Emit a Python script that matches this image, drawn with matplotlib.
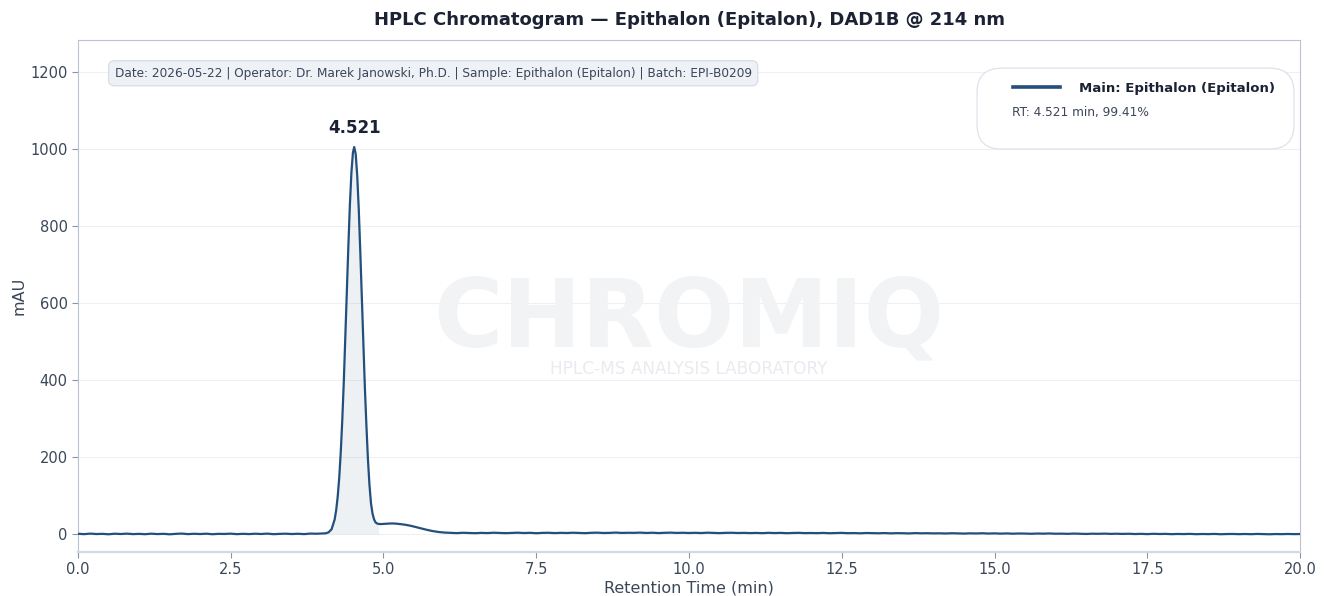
import matplotlib.pyplot as plt
import numpy as np
from matplotlib.lines import Line2D
from matplotlib.patches import FancyBboxPatch

# baseline before the peak, sampled every 0.1 min from 0.0 to 4.0
pre_time = np.round(np.arange(0.0, 4.05, 0.1), 2)
pre_mau = [0.4, -0.6, 0.8, -0.3, 0.2, -0.9, 0.5, -0.2, 0.7, -0.5,
           0.1, -0.7, 0.6, -0.4, 0.3, -1.0, 0.2, 0.9, -0.5, 0.4,
           -0.3, 0.6, -0.8, 0.2, -0.1, 0.7, -0.6, 0.3, -0.4, 0.5,
           -0.2, 0.8, -0.7, 0.1, 0.6, -0.3, 0.4, -0.5, 0.9, 0.5, 1.0]

# main peak + tailing hump
peak_time = [4.05, 4.10, 4.15, 4.20, 4.225, 4.25, 4.275, 4.30, 4.325, 4.35, 4.375,
             4.40, 4.425, 4.45, 4.475, 4.50, 4.521, 4.545, 4.57, 4.595, 4.62, 4.645,
             4.67, 4.695, 4.72, 4.745, 4.77, 4.795, 4.82, 4.845, 4.87, 4.895, 4.92,
             4.95, 5.00, 5.05, 5.10, 5.15, 5.20, 5.25, 5.30, 5.35, 5.40, 5.45, 5.50,
             5.60, 5.70, 5.80, 5.90, 6.00]
peak_mau = [1.5, 4, 12, 37, 61, 96, 145, 211, 294, 394, 508,
            629, 748, 855, 939, 991, 1005, 987, 931, 844, 734, 614,
            494, 381, 283, 195, 128, 80, 53, 38, 30, 27, 26,
            25.5, 26, 26.5, 27, 27.2, 26.8, 26, 25, 24, 22.5, 21, 19,
            15, 11, 7.5, 5, 3.5]

# baseline after the peak, every 0.1 min from 6.1 to 20.0
post_time = np.round(np.arange(6.1, 20.05, 0.1), 2)
post_mau = [2.8, 2.1, 3.0, 2.4, 1.9, 2.7, 2.2, 3.1, 2.5, 2.0,
            2.6, 3.2, 2.3, 2.9, 1.8, 2.7, 3.0, 2.2, 2.8, 2.4,
            3.1, 2.5, 2.0, 2.9, 3.3, 2.4, 2.7, 3.5, 2.6, 3.0,
            2.8, 3.4, 2.5, 3.1, 2.2, 2.9, 3.3, 2.6, 3.0, 2.4,
            2.9, 2.3, 3.2, 2.6, 2.1, 2.8, 3.0, 2.4, 2.7, 2.2,
            2.6, 2.0, 2.9, 2.3, 2.7, 1.9, 2.5, 2.8, 2.1, 2.4,
            2.0, 2.6, 1.8, 2.3, 2.7, 1.9, 2.2, 1.6, 2.4, 2.0,
            1.7, 2.2, 1.5, 2.0, 1.8, 1.3, 2.1, 1.6, 1.9, 1.4,
            1.6, 1.1, 1.8, 1.3, 0.9, 1.5, 1.2, 1.7, 1.0, 1.4,
            0.8, 1.3, 0.6, 1.1, 0.9, 0.4, 1.0, 0.7, 1.2, 0.5,
            0.7, 0.2, 0.9, 0.4, -0.1, 0.6, 0.3, 0.8, 0.1, 0.5,
            0.0, 0.4, -0.3, 0.2, -0.5, 0.3, -0.2, 0.1, -0.6, -0.1,
            -0.4, 0.1, -0.7, -0.2, -0.5, 0.0, -0.8, -0.3, -0.1, -0.6,
            -0.2, -0.7, 0.0, -0.4, -0.9, -0.3, -0.6, -0.1, -0.5, -0.3]

peak_rt = 4.521
peak_height = 1005
peak_area_pct = 99.41
peak_name = 'Main: Epithalon (Epitalon)'
info = ('Date: 2026-05-22 | Operator: Dr. Marek Janowski, Ph.D. | '
        'Sample: Epithalon (Epitalon) | Batch: EPI-B0209')

t = np.concatenate([pre_time, peak_time, post_time])
y = np.concatenate([pre_mau, peak_mau, post_mau])

line_color = '#234f7d'
dark = '#1a2233'
txt = '#3b4658'

fig = plt.figure(figsize=(13.24, 5.96), dpi=100)
ax = fig.add_axes([0.0589, 0.0738, 0.9230, 0.8591])

ax.plot(t, y, color=line_color, lw=1.6, zorder=3)
mask = (t >= 4.0) & (t <= 4.92)
ax.fill_between(t[mask], 0, y[mask], color=line_color, alpha=0.08, lw=0, zorder=2)

ax.set_xlim(0, 20)
ax.set_ylim(-47, 1283)
ax.set_xticks(np.arange(0, 20.1, 2.5))
ax.set_yticks(np.arange(0, 1201, 200))
ax.grid(axis='y', color='#eef0f3', lw=0.8)
ax.set_axisbelow(True)

for s in ['left', 'top', 'right']:
    ax.spines[s].set_color('#b9c3d3')
ax.spines['bottom'].set_color('#d3d9e2')
ax.spines['bottom'].set_linewidth(1.6)
ax.tick_params(colors='#8a94a6', labelcolor=txt, labelsize=10.5, length=4)

ax.set_xlabel('Retention Time (min)', fontsize=11.5, color=txt, labelpad=2)
ax.set_ylabel('mAU', fontsize=11.5, color=txt, labelpad=3)
ax.set_title('HPLC Chromatogram — Epithalon (Epitalon), DAD1B @ 214 nm',
             fontsize=13, fontweight='bold', color=dark, pad=11)

# watermark
ax.text(0.5, 0.452, 'CHROMIQ', transform=ax.transAxes, ha='center', va='center',
        fontsize=68, fontweight='bold', color='#f2f3f5', zorder=1)
ax.text(0.5, 0.358, 'HPLC-MS ANALYSIS LABORATORY', transform=ax.transAxes,
        ha='center', va='center', fontsize=12.2, color='#e8ebef', zorder=1)

# peak label
ax.annotate(f'{peak_rt:.3f}', xy=(peak_rt, peak_height), xytext=(0, 7),
            textcoords='offset points', ha='center', va='bottom',
            fontsize=12, fontweight='bold', color=dark)

# info box
ax.text(0.030, 0.935, info, transform=ax.transAxes, fontsize=8.7, color=txt,
        va='center', ha='left', zorder=5,
        bbox=dict(boxstyle='round,pad=0.5,rounding_size=0.5', fc='#eef2f7', ec='#d5dde8', lw=0.9))

# legend box
box = FancyBboxPatch((0.7357, 0.787), 0.2594, 0.158, transform=ax.transAxes,
                     boxstyle='round,pad=0,rounding_size=0.02', fc='white', ec='#dde2ea',
                     lw=0.9, zorder=5, mutation_aspect=1222 / 512)
ax.add_patch(box)
handle = Line2D([], [], color=line_color, lw=2.6)
leg = ax.legend([handle], [peak_name], loc='center left', bbox_to_anchor=(0.7594, 0.9052),
                frameon=False, handlelength=3.6, handletextpad=1.45, borderpad=0,
                prop=dict(size=9.5, weight='bold'))
leg.get_texts()[0].set_color(dark)
leg.set_zorder(6)
ax.text(0.7645, 0.858, f'RT: {peak_rt:.3f} min, {peak_area_pct:.2f}%', transform=ax.transAxes,
        fontsize=8.7, color=txt, va='center', ha='left', zorder=6)

fig.savefig('out.png', dpi=100)
